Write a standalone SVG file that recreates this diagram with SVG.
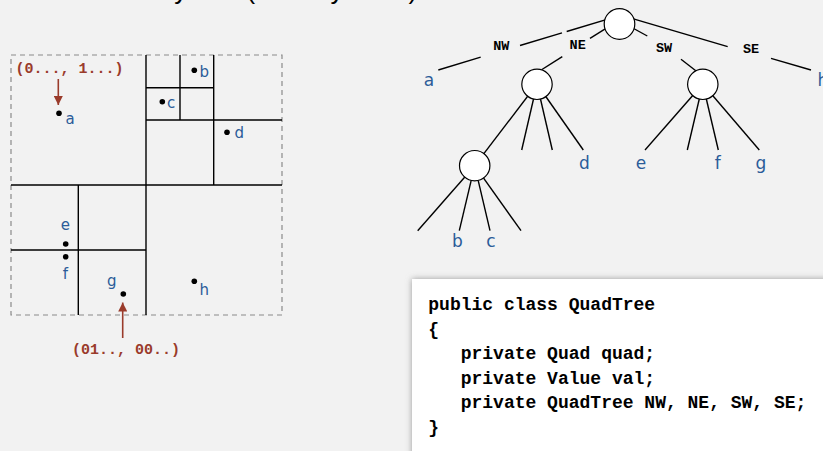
<svg xmlns="http://www.w3.org/2000/svg" width="823" height="451" viewBox="0 0 823 451">
  <defs>
    <style>
      .bg { fill: #f2f2f2; }
      .title { font-family: "Liberation Sans", Arial, sans-serif; font-size: 26px; fill: #000; }
      .grid { stroke: #000; stroke-width: 1.4; fill: none; }
      .frame { stroke: #8a8a8a; stroke-width: 1.2; stroke-dasharray: 5 4; fill: none; }
      .pt { fill: #000; }
      .lbl { font-family: "DejaVu Sans", "Noto Sans", sans-serif; font-size: 15px; fill: #2b5c99; }
      .tlbl { font-family: "DejaVu Sans", "Noto Sans", sans-serif; font-size: 17px; fill: #2b5c99; text-anchor: middle; }
      .note { font-family: "Liberation Mono", "Courier New", monospace; font-weight: bold; font-size: 15px; fill: #9a3b2b; }
      .ptr { stroke: #9a3b2b; stroke-width: 1.6; fill: none; }
      .edge { stroke: #000; stroke-width: 1.4; fill: none; }
      .dir { font-family: "Liberation Mono", "Courier New", monospace; font-weight: bold; font-size: 13.5px; fill: #000; text-anchor: middle; }
      .node { fill: #fff; stroke: #000; stroke-width: 1.2; }
      .code { font-family: "Liberation Mono", "Courier New", monospace; font-weight: bold; font-size: 18px; fill: #000; white-space: pre; }
    </style>
    <marker id="head" viewBox="0 0 10 10" refX="10" refY="5" markerWidth="9" markerHeight="9" markerUnits="userSpaceOnUse" orient="auto">
      <path d="M0,0 L10,5 L0,10 z" fill="#9a3b2b"/>
    </marker>
    <filter id="shadow" x="-10%" y="-10%" width="120%" height="120%">
      <feGaussianBlur stdDeviation="3"/>
    </filter>
  </defs>

  <rect class="bg" x="0" y="0" width="823" height="451"/>

  <!-- heading line, mostly above the top edge -->
  <text class="title" x="118" y="-1">4-way tree (actually a trie).</text>

  <!-- spatial subdivision of the plane -->
  <g id="plane">
    <rect class="frame" x="11" y="55" width="271" height="260"/>
    <!-- level 1 -->
    <line class="grid" x1="146" y1="55" x2="146" y2="315"/>
    <line class="grid" x1="11" y1="185" x2="282" y2="185"/>
    <!-- NE quadrant -->
    <line class="grid" x1="213.7" y1="55" x2="213.7" y2="185"/>
    <line class="grid" x1="146" y1="120" x2="282" y2="120"/>
    <!-- NE / NW sub-quadrant -->
    <line class="grid" x1="180" y1="55" x2="180" y2="120"/>
    <line class="grid" x1="146" y1="87.7" x2="213.7" y2="87.7"/>
    <!-- SW quadrant -->
    <line class="grid" x1="78.3" y1="185" x2="78.3" y2="315"/>
    <line class="grid" x1="11" y1="250" x2="146" y2="250"/>

    <!-- points -->
    <circle class="pt" cx="59" cy="113.3" r="2.8"/>
    <circle class="pt" cx="194.3" cy="70.3" r="2.8"/>
    <circle class="pt" cx="162.3" cy="101.7" r="2.8"/>
    <circle class="pt" cx="227" cy="132.3" r="2.8"/>
    <circle class="pt" cx="65.7" cy="244" r="2.8"/>
    <circle class="pt" cx="65.7" cy="256.7" r="2.8"/>
    <circle class="pt" cx="123.3" cy="294" r="2.8"/>
    <circle class="pt" cx="194.3" cy="281.3" r="2.8"/>

    <text class="lbl" x="65.5" y="124">a</text>
    <text class="lbl" x="199.5" y="77.3">b</text>
    <text class="lbl" x="167" y="108.3">c</text>
    <text class="lbl" x="234.5" y="138.3">d</text>
    <text class="lbl" x="65.3" y="230" text-anchor="middle">e</text>
    <text class="lbl" x="65.3" y="279" text-anchor="middle">f</text>
    <text class="lbl" x="111.7" y="286" text-anchor="middle">g</text>
    <text class="lbl" x="199.5" y="295">h</text>

    <!-- address annotations -->
    <text class="note" x="15.5" y="72.5">(0..., 1...)</text>
    <line class="ptr" x1="58.3" y1="79" x2="58.3" y2="105" marker-end="url(#head)"/>
    <text class="note" x="72" y="353.5">(01.., 00..)</text>
    <line class="ptr" x1="122.7" y1="338" x2="122.7" y2="302.5" marker-end="url(#head)"/>
  </g>

  <!-- tree connectors -->
  <g id="connectors">
    <!-- root: NW -->
    <line class="edge" x1="612" y1="17.9" x2="566.7" y2="31.5"/>
    <line class="edge" x1="562" y1="32.9" x2="520" y2="45.5"/>
    <line class="edge" x1="480.7" y1="57.2" x2="438.3" y2="70"/>
    <!-- root: NE -->
    <line class="edge" x1="608" y1="27.2" x2="590" y2="38.3"/>
    <line class="edge" x1="562.3" y1="56.7" x2="538" y2="72"/>
    <!-- root: SW -->
    <line class="edge" x1="630" y1="26.5" x2="647.3" y2="36"/>
    <line class="edge" x1="681" y1="59.3" x2="700" y2="74"/>
    <!-- root: SE -->
    <line class="edge" x1="630" y1="17.8" x2="727.7" y2="46.7"/>
    <line class="edge" x1="771" y1="58.3" x2="811" y2="70"/>
    <!-- NE node children -->
    <line class="edge" x1="537" y1="84" x2="474.7" y2="165.7"/>
    <line class="edge" x1="537" y1="84" x2="521.7" y2="150"/>
    <line class="edge" x1="537" y1="84" x2="552.3" y2="150"/>
    <line class="edge" x1="537" y1="84" x2="583.3" y2="150"/>
    <!-- SW node children -->
    <line class="edge" x1="702.8" y1="84" x2="645" y2="150"/>
    <line class="edge" x1="702.8" y1="84" x2="687.3" y2="150"/>
    <line class="edge" x1="702.8" y1="84" x2="718.3" y2="150"/>
    <line class="edge" x1="702.8" y1="84" x2="759.3" y2="150"/>
    <!-- NE.NW node children -->
    <line class="edge" x1="474.7" y1="165.7" x2="417.7" y2="230.7"/>
    <line class="edge" x1="474.7" y1="165.7" x2="459.3" y2="230.7"/>
    <line class="edge" x1="474.7" y1="165.7" x2="490" y2="230.7"/>
    <line class="edge" x1="474.7" y1="165.7" x2="521" y2="230.7"/>
  </g>

  <g id="edge-labels">
    <text class="dir" x="501.3" y="50">NW</text>
    <text class="dir" x="577.7" y="49">NE</text>
    <text class="dir" x="664" y="52">SW</text>
    <text class="dir" x="751" y="53">SE</text>
  </g>

  <g id="root"><circle class="node" cx="619.5" cy="24" r="15.3"/></g>
  <g id="node-ne"><circle class="node" cx="537" cy="84.3" r="15.2"/></g>
  <g id="node-sw"><circle class="node" cx="702.8" cy="84.3" r="15.2"/></g>
  <g id="node-ne-nw"><circle class="node" cx="474.7" cy="165.7" r="15.2"/></g>

  <g id="leaf-a"><text class="tlbl" x="429" y="86">a</text></g>
  <g id="leaf-h"><text class="tlbl" x="823" y="86">h</text></g>
  <g id="leaf-d"><text class="tlbl" x="584.3" y="169">d</text></g>
  <g id="leaf-e"><text class="tlbl" x="641" y="169">e</text></g>
  <g id="leaf-f"><text class="tlbl" x="717.7" y="169">f</text></g>
  <g id="leaf-g"><text class="tlbl" x="761" y="169">g</text></g>
  <g id="leaf-b"><text class="tlbl" x="457.3" y="247.3">b</text></g>
  <g id="leaf-c"><text class="tlbl" x="491" y="247.3">c</text></g>

  <!-- class declaration panel -->
  <g id="code">
    <rect x="412" y="279" width="430" height="190" fill="#9a9a9a" filter="url(#shadow)"/>
    <rect x="412" y="279" width="430" height="190" fill="#fff"/>
    <text class="code" x="428.3" y="310">public class QuadTree</text>
    <text class="code" x="428.3" y="334.5">{</text>
    <text class="code" x="428.3" y="359">   private Quad quad;</text>
    <text class="code" x="428.3" y="383.5">   private Value val;</text>
    <text class="code" x="428.3" y="408">   private QuadTree NW, NE, SW, SE;</text>
    <text class="code" x="428.3" y="432.5">}</text>
  </g>
</svg>
